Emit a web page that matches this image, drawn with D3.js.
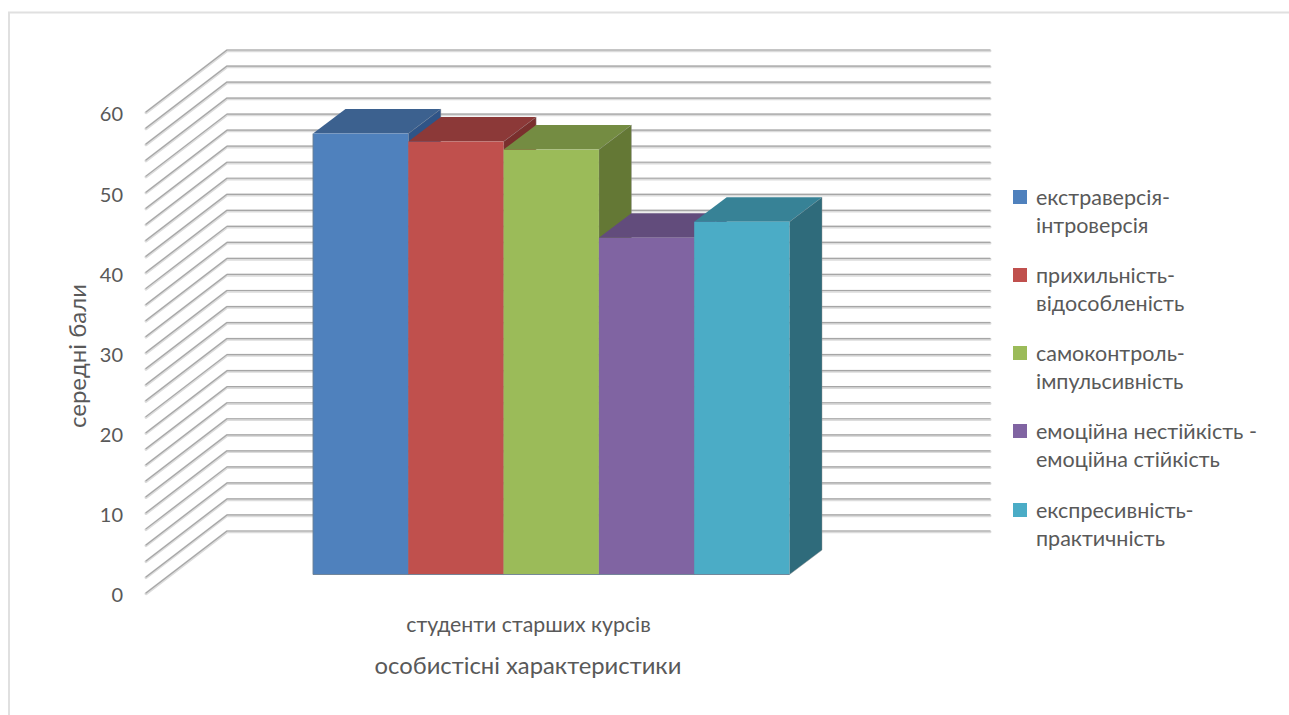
<!DOCTYPE html>
<html lang="uk">
<head>
<meta charset="utf-8">
<title>Особистісні характеристики</title>
<script src="https://cdn.jsdelivr.net/npm/d3@7"></script>
<style>
  html, body { margin: 0; padding: 0; background: #fff; }
  svg { display: block; }
  text { font-family: Lato, "Open Sans", "Noto Sans", sans-serif; fill: #595959; }
</style>
</head>
<body>
<svg id="chart" width="1289" height="715"></svg>
<script>
// Chart content
const seriesNames = [
  ["екстраверсія-", "інтроверсія"],
  ["прихильність-", "відособленість"],
  ["самоконтроль-", "імпульсивність"],
  ["емоційна нестійкість -", "емоційна стійкість"],
  ["експресивність-", "практичність"]
];
const seriesValues = [55, 54, 53, 42, 44];
const categoryLabel = "студенти старших курсів";
const xTitle = "особистісні характеристики";
const yTitle = "середні бали";
const yTicks = [0, 10, 20, 30, 40, 50, 60];

// Face colours of each cuboid
const frontColors = ["#4f81bd", "#c0504d", "#9bbb59", "#8064a2", "#4bacc6"];
const topColors = ["#3c618f", "#8c3938", "#748c42", "#624c7c", "#378296"];
const sideColors = ["#2f5487", "#7a2f2d", "#647835", "#54406c", "#2f6b7b"];

const svg = d3.select("#chart");

// Outer frame: only the top and left edges are visible
svg.append("path")
  .attr("d", d3.line()([[9, 715], [9, 12.5], [1289, 12.5]]))
  .attr("fill", "none").attr("stroke", "#e0e0e0").attr("stroke-width", 2);

// Projection of the chart box
const wallLeft = 227, wallRight = 990, sideLeft = 146;
const depthDrop = 62;
const yFront = d3.scaleLinear().domain([0, 60]).range([593, 112]);
const yBack = v => yFront(v) - depthDrop;
const yBar = d3.scaleLinear().domain([0, 60]).range([574.5, 574.5 - 481]);
const x = d3.scaleBand().domain(d3.range(seriesValues.length)).range([313, 789.5]);
const barDepthX = 32.5, barDepthY = 24.5;

// Gridlines across the side wall and back wall, with a lighter band just below each
const gridValues = yFront.ticks(30);
const gridPath = v => d3.line()([[sideLeft, yFront(v)], [wallLeft, yBack(v)], [wallRight, yBack(v)]]);
const grid = svg.append("g").attr("fill", "none").attr("stroke-linecap", "round").attr("stroke-linejoin", "round");
grid.selectAll("path.halo").data(gridValues).join("path")
  .attr("class", "halo").attr("d", gridPath)
  .attr("transform", "translate(0,0.7)")
  .attr("stroke", "#dcdcdc").attr("stroke-width", 3);
grid.selectAll("path.core").data(gridValues).join("path")
  .attr("class", "core").attr("d", gridPath)
  .attr("stroke", "#a6a6a6").attr("stroke-width", 1.2);

// Cuboids, painted left to right so each one overlaps its neighbour's side
const bars = svg.append("g").selectAll("g").data(seriesValues).join("g");
const poly = pts => d3.line()(pts) + "Z";

bars.append("path") // right side
  .attr("d", (d, i) => {
    const r = x(i) + x.bandwidth(), t = yBar(d), b = yBar(0);
    return poly([[r, t], [r + barDepthX, t - barDepthY], [r + barDepthX, b - barDepthY], [r, b]]);
  })
  .attr("fill", (d, i) => sideColors[i])
  .attr("stroke", "#8f8f8f").attr("stroke-width", 0.8).attr("stroke-opacity", 0.55);

bars.append("path") // top
  .attr("d", (d, i) => {
    const l = x(i), r = l + x.bandwidth(), t = yBar(d);
    return poly([[l, t], [l + barDepthX, t - barDepthY], [r + barDepthX, t - barDepthY], [r, t]]);
  })
  .attr("fill", (d, i) => topColors[i]);

bars.append("rect") // front
  .attr("x", (d, i) => x(i))
  .attr("y", d => yBar(d))
  .attr("width", x.bandwidth())
  .attr("height", d => yBar(0) - yBar(d))
  .attr("fill", (d, i) => frontColors[i]);

// Thin outline around the front row of faces
svg.append("path")
  .attr("d", d3.line()([[x(0), yBar(seriesValues[0])], [x(0), yBar(0)], [x(4) + x.bandwidth(), yBar(0)]]))
  .attr("fill", "none").attr("stroke", "#6b7f93").attr("stroke-width", 0.9);

// Value axis labels
const axis = d3.axisLeft(yFront).tickValues(yTicks).tickSize(0).tickPadding(0);
const axisG = svg.append("g").attr("transform", "translate(123,2.5)").call(axis);
axisG.select(".domain").remove();
axisG.attr("font-family", null);
axisG.selectAll("text").attr("font-size", 20).attr("fill", "#595959");

// Axis titles and the category label
svg.append("text").attr("x", 528.5).attr("y", 632).attr("text-anchor", "middle")
  .attr("font-size", 21.3).text(categoryLabel);
svg.append("text").attr("x", 528).attr("y", 674).attr("text-anchor", "middle")
  .attr("font-size", 23.8).text(xTitle);
svg.append("text").attr("transform", "translate(86,356) rotate(-90)").attr("text-anchor", "middle")
  .attr("font-size", 24).text(yTitle);

// Legend
const legendTops = [190, 268, 346, 424, 503];
const legend = svg.append("g").selectAll("g").data(seriesNames).join("g")
  .attr("transform", (d, i) => `translate(1013,${legendTops[i]})`);
legend.append("rect").attr("width", 14).attr("height", 14).attr("fill", (d, i) => frontColors[i]);
legend.selectAll("text").data(d => d).join("text")
  .attr("x", 23).attr("y", (d, i) => 15 + i * 28)
  .attr("font-size", 21.5).text(d => d);
</script>
</body>
</html>
